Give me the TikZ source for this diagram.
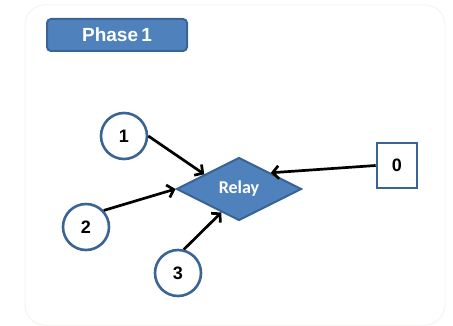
\documentclass[tikz,border=0pt]{standalone}
\usepackage{fontspec}
\setmainfont{Liberation Sans}
\newfontfamily\relayfont{Carlito}
\usetikzlibrary{shapes.geometric,arrows.meta}
\definecolor{officeblue}{HTML}{4F81BD}
\definecolor{officeedge}{HTML}{3B6496}
\definecolor{paneledge}{HTML}{F4F4EE}
\tikzset{
  numcircle/.style={circle, draw=officeedge, line width=2.6pt, fill=white,
    minimum size=46pt, inner sep=0pt, font=\fontsize{18}{18}\selectfont\bfseries},
  numbox/.style={rectangle, draw=officeedge, line width=2.6pt, fill=white,
    minimum width=40pt, minimum height=45pt, inner sep=0pt,
    font=\fontsize{18}{18}\selectfont\bfseries},
  relaynode/.style={diamond, draw=officeedge, line width=2pt, fill=officeblue,
    minimum width=125pt, minimum height=63pt, inner sep=0pt, text=white,
    font=\fontsize{18}{18}\selectfont\relayfont\bfseries},
  phasebox/.style={rectangle, rounded corners=4pt, draw=officeedge, line width=2pt,
    fill=officeblue, minimum width=140pt, minimum height=32pt, inner sep=0pt,
    text=white, font=\fontsize{19}{19}\selectfont\bfseries},
  link/.style={line width=2.7pt, black, -{Straight Barb[length=6pt,width=13pt]}}
}
\begin{document}
\begin{tikzpicture}[x=1pt, y=-1pt]
  \useasboundingbox (0,0) rectangle (453,326);
  % outer panel
  \draw[paneledge, line width=1pt, rounded corners=20pt] (25,5) rectangle (445,325);
  % title tag
  \node[phasebox] (phase) at (117,35) {Phase\,1};
  % nodes
  \node[relaynode] (relay) at (239,189) {Relay};
  \node[numcircle] (c1) at (124,136) {1};
  \node[numcircle] (c2) at (86,227) {2};
  \node[numcircle] (c3) at (178,273) {3};
  \node[numbox] (b0) at (397,165.5) {0};
  % connectors
  \draw[link] (c1.east) -- (relay.157);
  \draw[link] (c2.43) -- (relay.west);
  \draw[link] (c3.76) -- (relay.233);
  \draw[link] (b0.west) -- (relay.27);
\end{tikzpicture}
\end{document}
